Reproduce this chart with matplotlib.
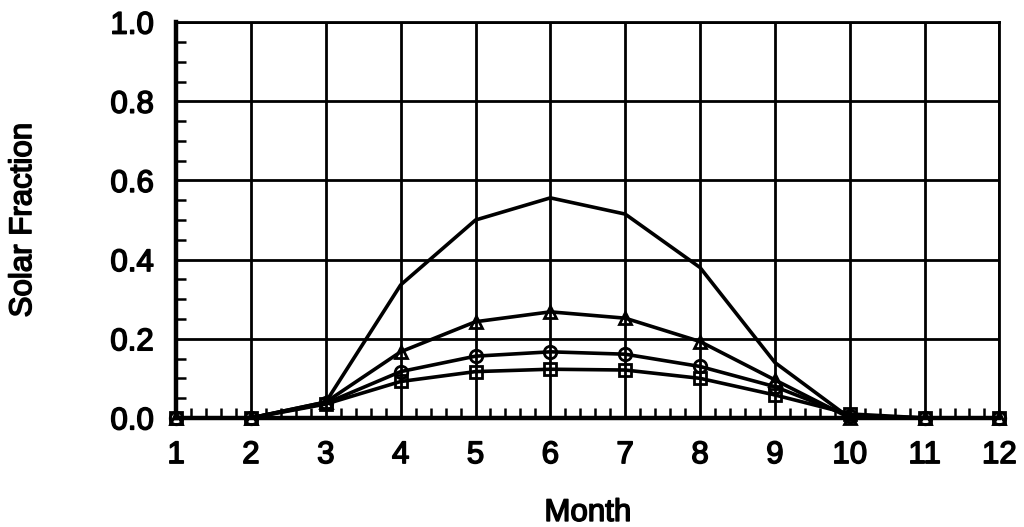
import numpy as np
import matplotlib.pyplot as plt
import matplotlib.patheffects as pe
from matplotlib.ticker import MultipleLocator

plt.rcParams['font.family'] = ['Liberation Sans', 'DejaVu Sans']

months = [1, 2, 3, 4, 5, 6, 7, 8, 9, 10, 11, 12]

# Solar fraction for each configuration
top_line = [0.0, 0.0, 0.04, 0.336, 0.50, 0.556, 0.515, 0.38, 0.14, 0.0, 0.0, 0.0]
triangles = [0.0, 0.0, 0.04, 0.167, 0.243, 0.268, 0.252, 0.193, 0.096, 0.0, 0.0, 0.0]
circles = [0.0, 0.0, 0.037, 0.117, 0.156, 0.167, 0.161, 0.13, 0.079, 0.005, 0.0, 0.0]
squares = [0.0, 0.0, 0.035, 0.092, 0.117, 0.123, 0.121, 0.10, 0.058, 0.01, 0.0, 0.0]

fig = plt.figure(figsize=(10.24, 5.27), dpi=100)
ax = fig.add_axes([0.172, 0.207, 0.804, 0.751])

ax.plot(months, top_line, color='black', lw=2.6, clip_on=False, zorder=3)
ax.plot(months, triangles, color='black', lw=2.6, marker='^', ms=9, mfc='none',
        mew=2, clip_on=False, zorder=3)
ax.plot(months, circles, color='black', lw=2.6, marker='o', ms=9, mfc='none',
        mew=2, clip_on=False, zorder=3)
ax.plot(months, squares, color='black', lw=2.6, marker='s', ms=8.5, mfc='none',
        mew=2, clip_on=False, zorder=3)

ax.set_xlim(1, 12)
ax.set_ylim(0, 1.0)
ax.xaxis.set_major_locator(MultipleLocator(1))
ax.xaxis.set_minor_locator(MultipleLocator(0.2))
ax.yaxis.set_major_locator(MultipleLocator(0.2))
ax.yaxis.set_minor_locator(MultipleLocator(0.05))
ax.yaxis.set_major_formatter(plt.FormatStrFormatter('%.1f'))

ax.grid(True, which='major', color='black', lw=2)
ax.tick_params(which='both', direction='in', top=False, right=False, color='black')
ax.tick_params(which='major', length=0, labelsize=22.5, pad=16)
ax.tick_params(which='minor', length=7, width=1.8)
for side in ['top', 'right']:
    ax.spines[side].set_linewidth(2)
for side in ['left', 'bottom']:
    ax.spines[side].set_linewidth(3.2)

ax.set_xlabel('Month', fontsize=22.5, labelpad=20)
ax.set_ylabel('Solar Fraction', fontsize=22.5, labelpad=52)

# thicken the regular face a little, like the scanned Helvetica
heavy = [pe.withStroke(linewidth=1.1, foreground='black')]
for t in ax.get_xticklabels() + ax.get_yticklabels() + [ax.xaxis.label, ax.yaxis.label]:
    t.set_path_effects(heavy)

fig.savefig('out.png', dpi=100)
